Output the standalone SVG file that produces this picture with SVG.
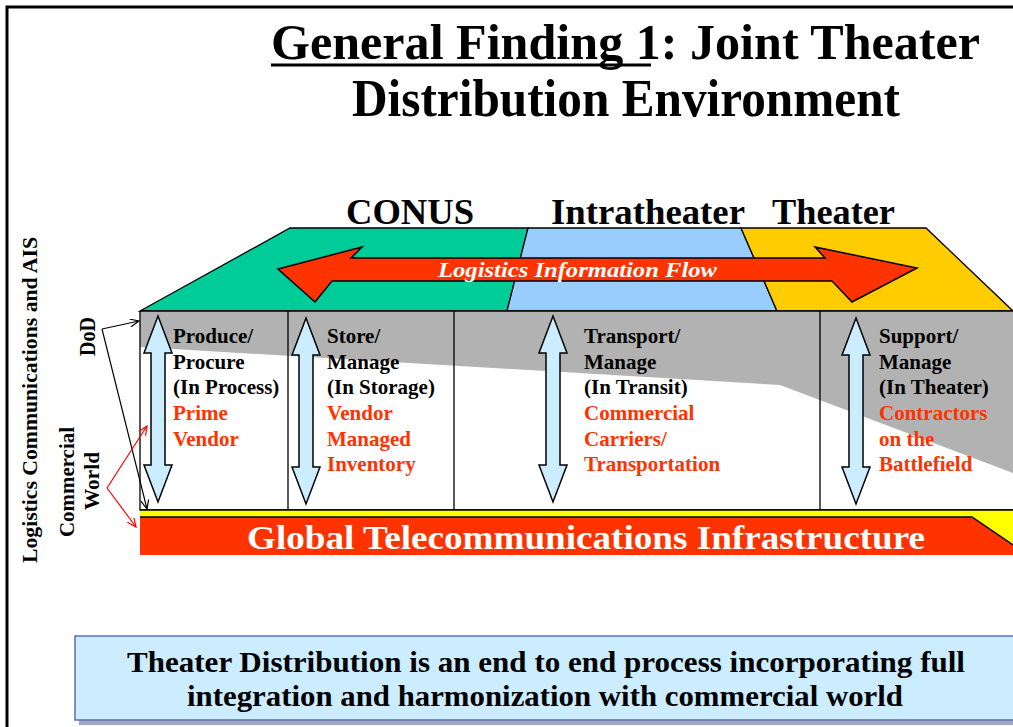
<svg xmlns="http://www.w3.org/2000/svg" width="1013" height="727" viewBox="0 0 1013 727">
<style>
.t{font-family:"Liberation Serif","Times New Roman",serif;font-weight:bold}
.blk{fill:#000}
.red{fill:#FF3300}
.col{font-size:21px}
.ln{stroke:#000;stroke-width:1.3;fill:none}
</style>
<defs>
<path id="darrow" d="M0,0 L14,37 L7,37 L7,149 L14,149 L0,186 L-14,149 L-7,149 L-7,37 L-14,37 Z" fill="#CCECFF" stroke="#000" stroke-width="1.5" stroke-linejoin="miter"/>
<marker id="mb" markerWidth="10" markerHeight="10" refX="9" refY="4" orient="auto" markerUnits="userSpaceOnUse"><path d="M0,0 L9,4 L0,8" fill="none" stroke="#000" stroke-width="1.2"/></marker>
<marker id="mr" markerWidth="10" markerHeight="10" refX="9" refY="4" orient="auto" markerUnits="userSpaceOnUse"><path d="M0,0 L9,4 L0,8" fill="none" stroke="#FF0000" stroke-width="1.2"/></marker>
</defs>
<rect width="1013" height="727" fill="#fff"/>
<path d="M7,727 L7,7 L1013,7" fill="none" stroke="#000" stroke-width="3"/>

<g id="title">
<text class="t" x="271" y="59" font-size="50" textLength="709" lengthAdjust="spacingAndGlyphs">General Finding 1:  Joint Theater</text>
<line x1="271" y1="65" x2="651" y2="65" stroke="#000" stroke-width="3"/>
<text class="t" x="352" y="116" font-size="52" textLength="548" lengthAdjust="spacingAndGlyphs">Distribution Environment</text>
</g>

<g id="headers">
<text class="t" x="346" y="224" font-size="36" textLength="128" lengthAdjust="spacingAndGlyphs">CONUS</text>
<text class="t" x="551" y="224" font-size="36" textLength="194" lengthAdjust="spacingAndGlyphs">Intratheater</text>
<text class="t" x="772" y="224" font-size="36" textLength="123" lengthAdjust="spacingAndGlyphs">Theater</text>
</g>

<g id="band">
<polygon points="140,311 290,228 528,228 507,311" fill="#00CC99" stroke="#000" stroke-width="1.3"/>
<polygon points="528,228 741,228 777,311 507,311" fill="#99CCFF" stroke="#000" stroke-width="1.3"/>
<polygon points="741,228 926,228 1013,311 777,311" fill="#FFCC00" stroke="#000" stroke-width="1.3"/>
</g>

<g id="info-flow">
<path d="M278,269 L362,247 L351,258 L825,258 L815,247 L917,268 L852,302 L832,281 L332,281 L315,302 Z" fill="#FF3300" stroke="#000" stroke-width="1.5"/>
<text class="t" x="438" y="277" font-size="21" font-style="italic" fill="#fff" textLength="279" lengthAdjust="spacingAndGlyphs">Logistics Information Flow</text>
</g>

<g id="process-box">
<rect x="140" y="311" width="873" height="199" fill="#fff"/>
<polygon points="140,311 1013,311 1013,473 780,385 140,347" fill="#B2B2B2"/>
<path class="ln" d="M140,311 L1013,311 M140,311 L140,510 L1013,510 M288,311 L288,510 M454,311 L454,510 M820,311 L820,510"/>
</g>

<g id="col-produce">
<use href="#darrow" x="158" y="316"/>
<text class="t col"><tspan class="blk" x="173" y="343">Produce/</tspan><tspan class="blk" x="173" y="369">Procure</tspan><tspan class="blk" x="173" y="394">(In Process)</tspan><tspan class="red" x="173" y="420">Prime</tspan><tspan class="red" x="173" y="446">Vendor</tspan></text>
</g>
<g id="col-store">
<use href="#darrow" x="306" y="318"/>
<text class="t col"><tspan class="blk" x="327" y="343">Store/</tspan><tspan class="blk" x="327" y="369">Manage</tspan><tspan class="blk" x="327" y="394">(In Storage)</tspan><tspan class="red" x="327" y="420">Vendor</tspan><tspan class="red" x="327" y="446">Managed</tspan><tspan class="red" x="327" y="471">Inventory</tspan></text>
</g>
<g id="col-transport">
<use href="#darrow" x="553" y="316"/>
<text class="t col"><tspan class="blk" x="584" y="343">Transport/</tspan><tspan class="blk" x="584" y="369">Manage</tspan><tspan class="blk" x="584" y="394">(In Transit)</tspan><tspan class="red" x="584" y="420">Commercial</tspan><tspan class="red" x="584" y="446">Carriers/</tspan><tspan class="red" x="584" y="471">Transportation</tspan></text>
</g>
<g id="col-support">
<use href="#darrow" x="856" y="318"/>
<text class="t col"><tspan class="blk" x="879" y="343">Support/</tspan><tspan class="blk" x="879" y="369">Manage</tspan><tspan class="blk" x="879" y="394">(In Theater)</tspan><tspan class="red" x="879" y="420">Contractors</tspan><tspan class="red" x="879" y="446">on the</tspan><tspan class="red" x="879" y="471">Battlefield</tspan></text>
</g>

<g id="telecom">
<rect x="140" y="510" width="873" height="45" fill="#FFFF00"/>
<polygon points="140,517 972,517 1013,545 1013,555 140,555" fill="#FF3300"/>
<path d="M140,517 L972,517 L1013,545" fill="none" stroke="#000" stroke-width="1.5"/>
<line x1="140" y1="510" x2="1013" y2="510" stroke="#000" stroke-width="1.5"/>
<text class="t" x="247" y="549" font-size="34" fill="#fff" textLength="678" lengthAdjust="spacingAndGlyphs">Global Telecommunications Infrastructure</text>
</g>

<g id="side-labels">
<text class="t" transform="translate(37,563) rotate(-90)" x="0" y="0" font-size="21" textLength="326" lengthAdjust="spacingAndGlyphs">Logistics Communications and AIS</text>
<text class="t" transform="translate(95,356) rotate(-90)" x="0" y="0" font-size="23" textLength="39" lengthAdjust="spacingAndGlyphs">DoD</text>
<text class="t" transform="translate(74,537) rotate(-90)" x="0" y="0" font-size="22" textLength="110" lengthAdjust="spacingAndGlyphs">Commercial</text>
<text class="t" transform="translate(99,510) rotate(-90)" x="0" y="0" font-size="22" textLength="58" lengthAdjust="spacingAndGlyphs">World</text>
</g>

<g id="connectors">
<line x1="102" y1="329" x2="139" y2="321" stroke="#000" stroke-width="1.2" marker-end="url(#mb)"/>
<line x1="102" y1="329" x2="147" y2="509" stroke="#000" stroke-width="1.2" marker-end="url(#mb)"/>
<line x1="107" y1="488" x2="147" y2="426" stroke="#FF0000" stroke-width="1.2" marker-end="url(#mr)"/>
<line x1="107" y1="488" x2="136" y2="527" stroke="#FF0000" stroke-width="1.2" marker-end="url(#mr)"/>
</g>

<g id="summary">
<rect x="79" y="640" width="940" height="85" fill="#9FA8C0"/>
<rect x="75" y="636" width="940" height="84" fill="#CCECFF" stroke="#5B6FB6" stroke-width="1.5"/>
<text class="t" x="127" y="672" font-size="29" textLength="838" lengthAdjust="spacingAndGlyphs">Theater Distribution is an end to end process incorporating  full</text>
<text class="t" x="187" y="706" font-size="29" textLength="716" lengthAdjust="spacingAndGlyphs">integration and harmonization with commercial world</text>
</g>
</svg>
